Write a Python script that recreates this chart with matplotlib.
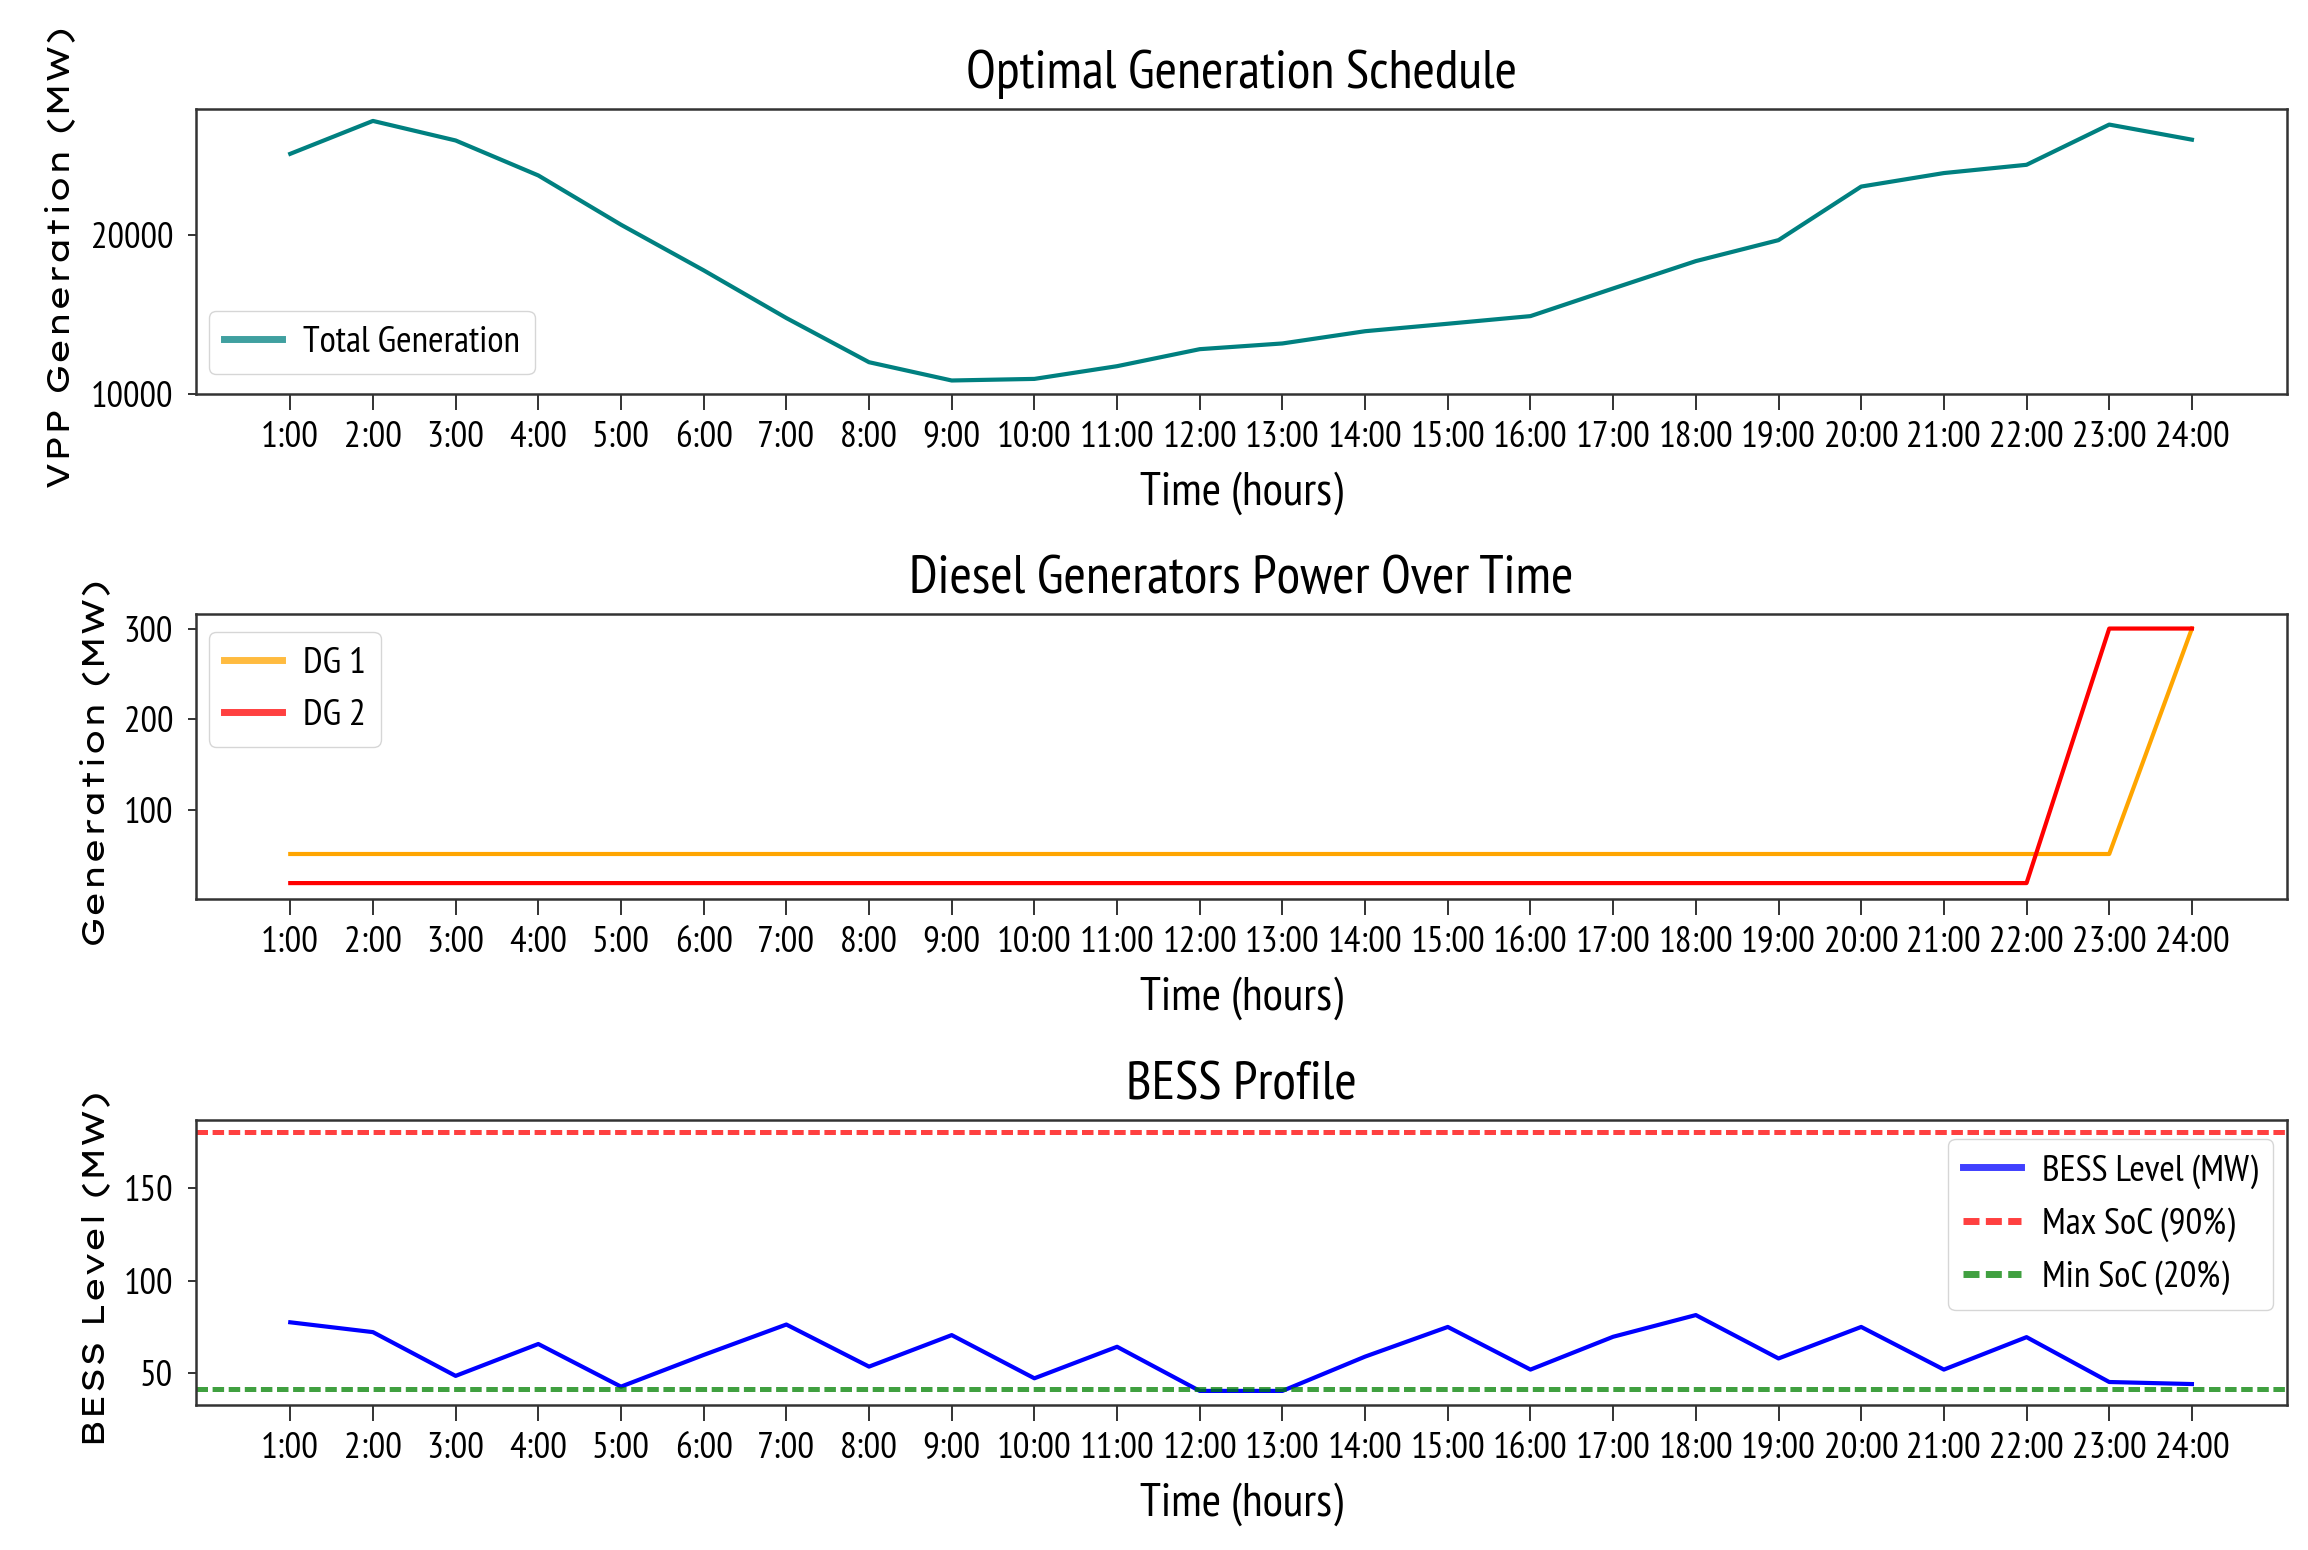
import matplotlib
matplotlib.use("Agg")
import matplotlib.pyplot as plt
from matplotlib import font_manager as fm
from matplotlib.font_manager import FontProperties
from matplotlib.textpath import TextPath

# ---------------- data ----------------
hours = ["1:00", "2:00", "3:00", "4:00", "5:00", "6:00", "7:00", "8:00",
         "9:00", "10:00", "11:00", "12:00", "13:00", "14:00", "15:00", "16:00",
         "17:00", "18:00", "19:00", "20:00", "21:00", "22:00", "23:00", "24:00"]

total_generation = [25110, 27180, 25950, 23750, 20650, 17780, 14780, 12000,
                    10850, 10950, 11750, 12820, 13180, 13950, 14420, 14900,
                    16640, 18360, 19680, 23050, 23900, 24420, 26950, 26000]

dg1_power = [52, 52, 52, 52, 52, 52, 52, 52, 52, 52, 52, 52,
             52, 52, 52, 52, 52, 52, 52, 52, 52, 52, 52, 300]
dg2_power = [20, 20, 20, 20, 20, 20, 20, 20, 20, 20, 20, 20,
             20, 20, 20, 20, 20, 20, 20, 20, 20, 20, 300, 300]

bess_level = [77.5, 72.2, 48.6, 65.8, 42.8, 59.9, 76.3, 53.6, 70.6, 47.3, 64.3, 40.5,
              40.5, 59.0, 75.0, 52.0, 69.7, 81.4, 58.0, 75.0, 52.0, 69.5, 45.3, 44.2]
max_soc = 180
min_soc = 41.5

gen_yticks = [10000, 20000]
gen_yticklabels = ["10000", "20000"]
dg_yticks = [100, 200, 300]
dg_yticklabels = ["100", "200", "300"]
bess_yticks = [50, 100, 150]
bess_yticklabels = ["50", "100", "150"]

# ---------------- fonts ----------------
DPI = 100
W, H = 2308, 1550


def find_font(name, stretch=None):
    for f in fm.fontManager.ttflist:
        if (f.name == name and f.style == "normal" and f.weight in (400, "normal", "regular")
                and (stretch is None or f.stretch == stretch)):
            return FontProperties(fname=f.fname)
    return None


def first_font(cands, default):
    for name, stretch in cands:
        fp = find_font(name, stretch)
        if fp is not None:
            return fp
    return FontProperties(family=default)


base_narrow = first_font([("Liberation Sans Narrow", None), ("PT Sans Narrow", None),
                          ("Fira Sans Condensed", None), ("Roboto Condensed", None),
                          ("IBM Plex Sans Condensed", None), ("DejaVu Sans", "condensed")],
                         "DejaVu Sans")
base_wide = first_font([("Lexend Mega", None), ("Lexend Giga", None), ("Lexend Exa", None),
                        ("Encode Sans Expanded", None)], "DejaVu Sans")


def fitted(base, text, target_px):
    p = base.copy()
    p.set_size(100)
    w = TextPath((0, 0), text, prop=p).get_extents().width
    size_pt = target_px * 72.0 / (DPI * w / 100.0)
    q = base.copy()
    q.set_size(size_pt)
    return q


fp_title = fitted(base_narrow, "Optimal Generation Schedule", 546)
fp_xlabel = fitted(base_narrow, "Time (hours)", 202)
fp_tick = fitted(base_narrow, "10:00", 71)
fp_ytick = fitted(base_narrow, "20000", 79)
fp_legend = fitted(base_narrow, "Total Generation", 214)
fp_ylabel = fitted(base_wide, "VPP Generation (MW)", 459)

leg_px = fp_legend.get_size_in_points() * DPI / 72.0

# ---------------- figure ----------------
fig = plt.figure(figsize=(W / DPI, H / DPI), dpi=DPI)
fig.patch.set_facecolor("white")

ax_left = 196 / W
ax_w = 2091 / W
ax_h = 285 / H
tops = [109, 614, 1120]
axes = [fig.add_axes([ax_left, 1 - (t + 285) / H, ax_w, ax_h]) for t in tops]

x = list(range(len(hours)))
SPINE = "#333333"


def style(ax, title, ylabel, yticks, yticklabels, ylim, ylab_x):
    ax.set_xlim(-1.14, 24.15)
    ax.set_ylim(*ylim)
    ax.set_xticks(x)
    ax.set_xticklabels(hours, fontproperties=fp_tick)
    ax.set_yticks(yticks)
    ax.set_yticklabels(yticklabels, fontproperties=fp_ytick)
    ax.tick_params(axis="x", length=11.3, width=1.4, pad=8.4, color=SPINE)
    ax.tick_params(axis="y", length=6, width=1.4, pad=10.5, color=SPINE)
    for s in ax.spines.values():
        s.set_linewidth(1.8)
        s.set_color(SPINE)
    ax.set_title(title, fontproperties=fp_title, pad=15)
    ax.set_xlabel("Time (hours)", fontproperties=fp_xlabel)
    ax.xaxis.set_label_coords(0.5, -77 / 285)
    ax.set_ylabel(ylabel, fontproperties=fp_ylabel)
    ax.yaxis.set_label_coords(ylab_x, 0.479)


def finish_legend(leg, lw_pt=5.0):
    for h in leg.legend_handles:
        h.set_linewidth(lw_pt)
        h.set_alpha(0.75)


legend_kw = dict(prop=fp_legend, handlelength=58 / leg_px, handletextpad=21 / leg_px,
                 borderaxespad=0, fancybox=True, framealpha=0.8, edgecolor="0.8")

# Panel 1
ax1 = axes[0]
ax1.plot(x, total_generation, color="teal", lw=3.0, label="Total Generation")
style(ax1, "Optimal Generation Schedule", "VPP Generation (MW)",
      gen_yticks, gen_yticklabels, (10000, 27930), -0.0575)
leg1 = ax1.legend(loc="lower left", bbox_to_anchor=(13 / 2091, 20 / 285), **legend_kw)
finish_legend(leg1)

# Panel 2
ax2 = axes[1]
ax2.plot(x, dg1_power, color="orange", lw=3.0, label="DG 1")
ax2.plot(x, dg2_power, color="red", lw=3.0, label="DG 2")
style(ax2, "Diesel Generators Power Over Time", "Generation (MW)",
      dg_yticks, dg_yticklabels, (2.5, 316), -0.0405)
leg2 = ax2.legend(loc="upper left", bbox_to_anchor=(13 / 2091, 1 - 18 / 285), **legend_kw)
finish_legend(leg2)

# Panel 3
ax3 = axes[2]
ax3.plot(x, bess_level, color="blue", lw=3.0, label="BESS Level (MW)")
ax3.axhline(max_soc, color="red", lw=3.6, alpha=0.75, linestyle=(0, (2.3, 0.92)),
            label="Max SoC (90%)")
ax3.axhline(min_soc, color="green", lw=3.6, alpha=0.75, linestyle=(0, (2.3, 0.92)),
            label="Min SoC (20%)")
style(ax3, "BESS Profile", "BESS Level (MW)",
      bess_yticks, bess_yticklabels, (32.9, 186.6), -0.0405)
leg3 = ax3.legend(loc="upper right", bbox_to_anchor=(1 - 14 / 2091, 1 - 19 / 285), **legend_kw)
finish_legend(leg3)

fig.savefig("out.png", dpi=DPI, facecolor="white")
